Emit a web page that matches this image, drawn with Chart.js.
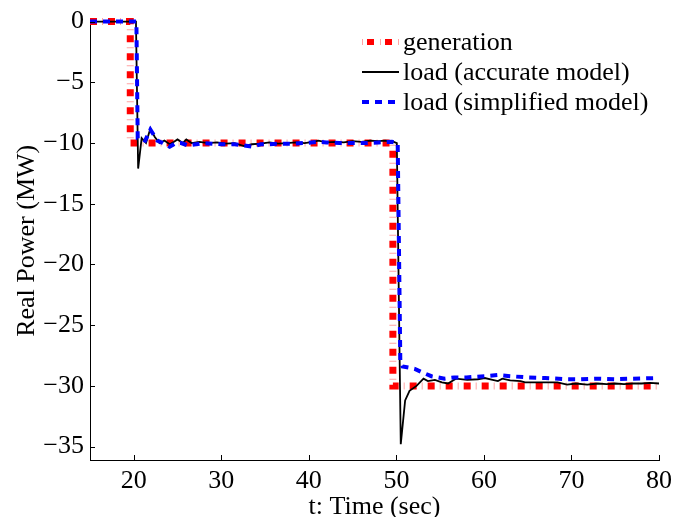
<!DOCTYPE html>
<html>
<head>
<meta charset="utf-8">
<script src="https://cdn.jsdelivr.net/npm/chart.js@4/dist/chart.umd.min.js"></script>
<style>
  html, body { margin: 0; padding: 0; background: #fff; }
  #wrap { width: 678px; height: 517px; }
</style>
</head>
<body>
<div id="wrap"><canvas id="chart" width="678" height="517"></canvas></div>
<script>
// generation (step)
var tGen = [15, 19.6, 19.6, 49.6, 49.6, 80];
var pGen = [0, 0, -10, -10, -30, -30];

// load, accurate model
var tAcc = [15, 20.25, 20.5, 20.9, 21.4, 21.9, 22.4, 22.95, 23.5, 24.1, 24.6, 25.0, 25.6, 26.0, 26.6, 27.5, 28.5, 29.5,
  30.5, 31.5, 32.6, 33.5, 34.5, 35.5, 36.5, 37.5, 38.5, 39.5, 40.5, 41.1, 42, 43, 44, 45, 46, 47, 48, 48.7, 49.5,
  50.05, 50.5, 51.0, 51.5, 52.3, 53.1, 53.6, 54.4, 55.2, 55.9, 56.8, 58.1, 59.3, 60.1, 61.0, 61.6, 62.1, 63, 64.2,
  64.7, 66, 67, 68.4, 69.5, 70.5, 71.8, 73, 74, 75, 76, 77, 78, 79, 80];
var pAcc = [0, 0, -12.1, -9.6, -10.0, -8.8, -9.5, -10.0, -9.8, -10.1, -9.9, -9.7, -10.0, -9.7, -10.0, -9.9, -10.0, -9.95,
  -10.05, -10.0, -10.25, -10.1, -10.05, -9.95, -10.05, -10.0, -9.95, -10.0, -9.9, -9.8, -9.95, -9.9, -9.95, -9.85, -9.9, -9.8, -9.85, -9.8, -9.85,
  -10.0, -34.8, -31.2, -30.4, -30.0, -29.4, -29.6, -29.5, -29.7, -29.8, -29.4, -29.5, -29.45, -29.35, -29.5, -29.6, -29.4, -29.55, -29.6,
  -29.7, -29.7, -29.7, -29.7, -29.9, -29.8, -29.9, -29.8, -29.85, -29.8, -29.85, -29.8, -29.8, -29.75, -29.8];

// load, simplified model
var tSim = [15, 20.3, 20.45, 21.0, 21.3, 21.9, 22.7, 23.3, 24.1, 24.8, 25.4, 26.2, 27.1, 28, 29, 30, 31.5, 32.5, 33.6,
  34.5, 35.5, 36.5, 38, 39.5, 41, 42, 43.5, 45, 46.5, 48, 49.5, 50.15, 50.45, 50.7, 51.5, 52.1, 53, 54, 55.5, 56.6,
  58, 59, 60.1, 61.6, 63, 65, 67, 69.5, 71, 73, 75, 77, 80];
var pSim = [0, 0, -9.6, -9.7, -9.8, -8.9, -9.8, -10.0, -10.3, -10.0, -10.0, -10.2, -10.1, -10.0, -10.05, -10.1, -10.1, -10.2, -10.3,
  -10.1, -10.1, -10.05, -10.05, -10.0, -9.9, -9.95, -10.0, -10.0, -10.0, -9.95, -9.9, -10.0, -28.0, -28.4, -28.5, -28.6, -28.9, -29.2, -29.4, -29.3,
  -29.3, -29.25, -29.2, -29.1, -29.2, -29.3, -29.35, -29.45, -29.45, -29.4, -29.45, -29.4, -29.35];

var xTicks = [20, 30, 40, 50, 60, 70, 80];
var yTicks = [-35, -30, -25, -20, -15, -10, -5, 0];
var labels = ['generation', 'load (accurate model)', 'load (simplified model)'];

function pts(t, p) {
  return t.map(function(v, i) { return {x: v, y: p[i]}; });
}

var serif = '"Liberation Serif", "DejaVu Serif", serif';
Chart.defaults.font.family = serif;
Chart.defaults.font.size = 26;
Chart.defaults.color = '#000';

function minus(v) { return String(v).replace('-', '\u2212'); }

function seg(ctx, x0, x1, y, color, width, dash, offset) {
  ctx.save();
  ctx.strokeStyle = color;
  ctx.lineWidth = width;
  ctx.setLineDash(dash || []);
  ctx.lineDashOffset = offset || 0;
  ctx.beginPath();
  ctx.moveTo(x0, y); ctx.lineTo(x1, y);
  ctx.stroke();
  ctx.restore();
}

// inward ticks + legend inside the plot
var extras = {
  id: 'extras',
  afterDraw: function(chart) {
    var ctx = chart.ctx, a = chart.chartArea;
    var xs = chart.scales.x, ys = chart.scales.y;
    ctx.save();
    ctx.strokeStyle = '#000';
    ctx.lineWidth = 1;
    ctx.beginPath();
    xTicks.forEach(function(v) {
      var px = Math.round(xs.getPixelForValue(v)) + 0.5;
      ctx.moveTo(px, a.bottom); ctx.lineTo(px, a.bottom - 5);
    });
    yTicks.forEach(function(v) {
      var py = Math.round(ys.getPixelForValue(v)) + 0.5;
      ctx.moveTo(a.left, py); ctx.lineTo(a.left + 5, py);
    });
    ctx.stroke();

    // legend
    var x0 = 362, x1 = 399, rows = [42, 72, 102];
    var ds = chart.data.datasets;
    seg(ctx, x0, x1, rows[0], ds[1].borderColor, 6, [1, 17], 0);
    seg(ctx, x0, x1, rows[0], ds[0].borderColor, 6, [7, 11], -5);
    seg(ctx, x0, x1, rows[1], ds[2].borderColor, ds[2].borderWidth);
    seg(ctx, x0, x1, rows[2], ds[3].borderColor, ds[3].borderWidth, ds[3].borderDash, 0);
    ctx.fillStyle = '#000';
    ctx.font = '26px ' + serif;
    ctx.textBaseline = 'middle';
    labels.forEach(function(l, i) { ctx.fillText(l, 403, rows[i] + 1); });
    ctx.restore();
  }
};

new Chart('chart', {
  type: 'line',
  data: {
    datasets: [
      { label: labels[0], data: pts(tGen, pGen), borderColor: '#ff0000', borderWidth: 7,
        borderDash: [7, 11], borderCapStyle: 'butt', order: 4 },
      { label: '', data: pts(tGen, pGen), borderColor: 'rgba(255,90,90,0.55)', borderWidth: 7,
        borderDash: [1, 17], borderDashOffset: -12, borderCapStyle: 'butt', order: 3 },
      { label: labels[1], data: pts(tAcc, pAcc), borderColor: '#000000', borderWidth: 1.8, order: 2 },
      { label: labels[2], data: pts(tSim, pSim), borderColor: '#0000ff', borderWidth: 4,
        borderDash: [7, 6], borderCapStyle: 'butt', order: 1 }
    ]
  },
  options: {
    responsive: false,
    animation: false,
    events: [],
    clip: false,
    layout: { padding: { top: 18, right: 16, left: 0, bottom: 0 } },
    elements: { point: { radius: 0 }, line: { tension: 0, fill: false } },
    plugins: { legend: { display: false }, tooltip: { enabled: false } },
    scales: {
      x: {
        type: 'linear', min: 15, max: 80,
        afterBuildTicks: function(s) { s.ticks = xTicks.map(function(v) { return {value: v}; }); },
        afterFit: function(s) { s.height = 57; },
        grid: { display: false, drawTicks: false },
        border: { display: true, color: '#000', width: 1 },
        ticks: { padding: 6, maxRotation: 0, autoSkip: false },
        title: { display: true, text: 't: Time (sec)', font: { size: 26, lineHeight: 1 }, padding: { top: 0, bottom: -3 } }
      },
      y: {
        type: 'linear', min: -36.1, max: 0,
        afterBuildTicks: function(s) { s.ticks = yTicks.map(function(v) { return {value: v}; }); },
        afterFit: function(s) { s.width = 90; },
        grid: { display: false, drawTicks: false },
        border: { display: true, color: '#000', width: 1 },
        ticks: { padding: 6, callback: function(v) { return minus(v); } },
        title: { display: true, text: 'Real Power (MW)', font: { size: 26, lineHeight: 1 }, padding: { top: 14, bottom: 0 } }
      }
    }
  },
  plugins: [extras]
});
</script>
</body>
</html>
